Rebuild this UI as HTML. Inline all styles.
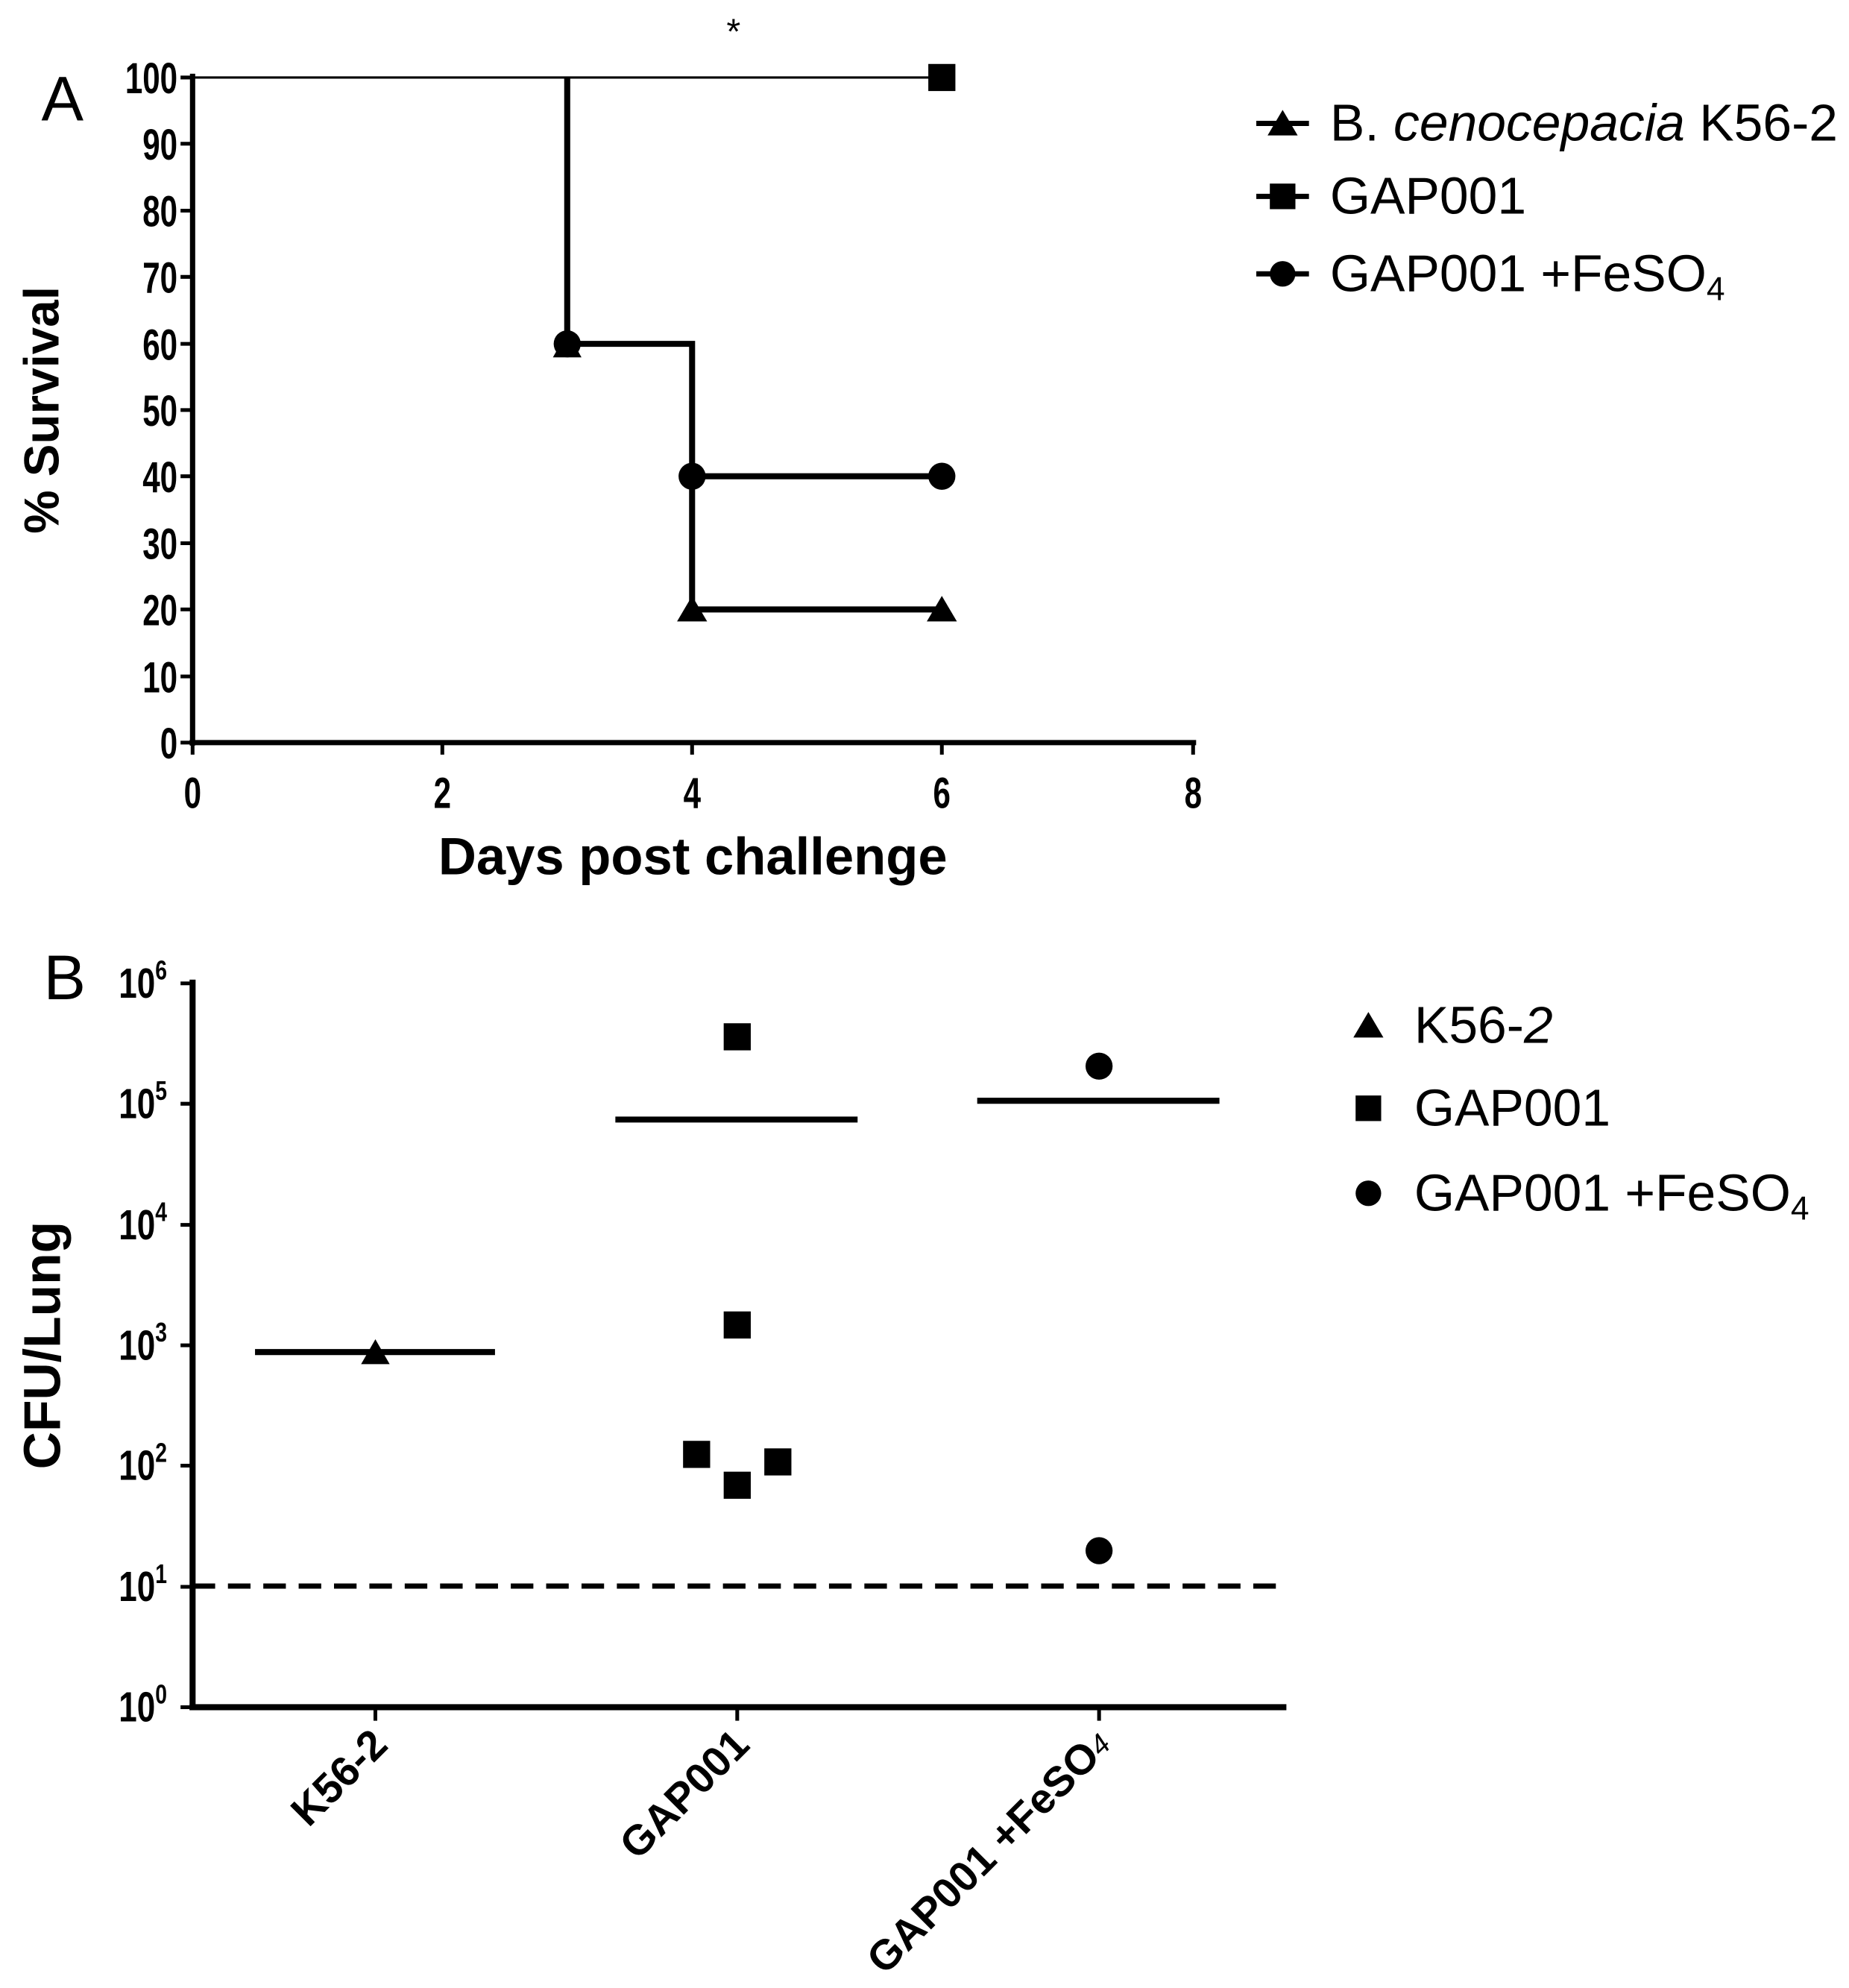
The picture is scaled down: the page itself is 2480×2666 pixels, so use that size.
<!DOCTYPE html>
<html><head><meta charset="utf-8"><style>
html,body{margin:0;padding:0;background:#fff}
svg{display:block}
text{font-family:"Liberation Sans",Arial,sans-serif;fill:#000}
.b{font-weight:bold}
</style></head><body>
<svg width="2480" height="2666" viewBox="0 0 2480 2666" xmlns="http://www.w3.org/2000/svg">
<g transform="scale(1.009)">
<!-- Panel A -->
<text x="55" y="160" font-size="84">A</text>
<text x="975" y="58" font-size="48" text-anchor="middle">*</text>
<g stroke="#000" fill="none">
<line x1="256" y1="98" x2="256" y2="991" stroke-width="7"/>
<line x1="252" y1="987" x2="1590" y2="987" stroke-width="7"/>
<g stroke-width="5">
<line x1="240" y1="103" x2="256" y2="103"/><line x1="240" y1="191" x2="256" y2="191"/><line x1="240" y1="280" x2="256" y2="280"/><line x1="240" y1="368" x2="256" y2="368"/><line x1="240" y1="457" x2="256" y2="457"/><line x1="240" y1="545" x2="256" y2="545"/><line x1="240" y1="633" x2="256" y2="633"/><line x1="240" y1="722" x2="256" y2="722"/><line x1="240" y1="810" x2="256" y2="810"/><line x1="240" y1="899" x2="256" y2="899"/><line x1="240" y1="987" x2="256" y2="987"/>
<line x1="256" y1="987" x2="256" y2="1003"/><line x1="588" y1="987" x2="588" y2="1003"/><line x1="920" y1="987" x2="920" y2="1003"/><line x1="1252" y1="987" x2="1252" y2="1003"/><line x1="1586" y1="987" x2="1586" y2="1003"/>
</g>
<line x1="256" y1="103" x2="1252" y2="103" stroke-width="3"/>
<polyline points="754,103 754,457 920,457 920,633 1252,633" stroke-width="8"/>
<polyline points="920,633 920,810 1252,810" stroke-width="8"/>
</g>
<g transform="translate(236,0) scale(0.72,1)" font-size="58" text-anchor="end" class="b">
<text x="0" y="124" class="b">100</text><text x="0" y="212" class="b">90</text><text x="0" y="301" class="b">80</text><text x="0" y="389" class="b">70</text><text x="0" y="478" class="b">60</text><text x="0" y="566" class="b">50</text><text x="0" y="654" class="b">40</text><text x="0" y="743" class="b">30</text><text x="0" y="831" class="b">20</text><text x="0" y="920" class="b">10</text><text x="0" y="1008" class="b">0</text>
</g>
<g font-size="58" text-anchor="middle" class="b">
<text transform="translate(256,1074) scale(0.72,1)" class="b">0</text>
<text transform="translate(588,1074) scale(0.72,1)" class="b">2</text>
<text transform="translate(920,1074) scale(0.72,1)" class="b">4</text>
<text transform="translate(1252,1074) scale(0.72,1)" class="b">6</text>
<text transform="translate(1586,1074) scale(0.72,1)" class="b">8</text>
</g>
<text x="921" y="1162" font-size="70" text-anchor="middle" class="b">Days post challenge</text>
<text transform="translate(78,545) rotate(-90)" font-size="65" text-anchor="middle" class="b">% Survival</text>
<g fill="#000">
<rect x="1234" y="85" width="36" height="36"/>
<circle cx="754" cy="457" r="18"/><polygon points="754,441 773,475 735,475"/>
<circle cx="920" cy="633" r="18"/><circle cx="1252" cy="633" r="18"/>
<polygon points="920,792 940,826 900,826"/><polygon points="1252,792 1272,826 1232,826"/>
</g>
<!-- Legend A -->
<g stroke="#000" stroke-width="7"><line x1="1670" y1="164" x2="1740" y2="164"/><line x1="1670" y1="261" x2="1740" y2="261"/><line x1="1670" y1="364" x2="1740" y2="364"/></g>
<polygon points="1705,146 1725,180 1685,180" fill="#000"/>
<rect x="1688" y="244" width="34" height="34" fill="#000"/>
<circle cx="1705" cy="364" r="17" fill="#000"/>
<g font-size="69">
<text x="1768" y="187">B. <tspan font-style="italic">cenocepacia</tspan> K56-2</text>
<text x="1768" y="284">GAP001</text>
<text x="1768" y="387">GAP001 +FeSO<tspan font-size="44" dy="12">4</tspan></text>
</g>
<!-- Panel B -->
<text x="58" y="1328" font-size="84">B</text>
<g stroke="#000" fill="none">
<line x1="256" y1="1302" x2="256" y2="2273" stroke-width="8"/>
<line x1="252" y1="2269" x2="1710" y2="2269" stroke-width="8"/>
<g stroke-width="5">
<line x1="240" y1="1307" x2="256" y2="1307"/><line x1="240" y1="1467" x2="256" y2="1467"/><line x1="240" y1="1628" x2="256" y2="1628"/><line x1="240" y1="1788" x2="256" y2="1788"/><line x1="240" y1="1948" x2="256" y2="1948"/><line x1="240" y1="2109" x2="256" y2="2109"/><line x1="240" y1="2269" x2="256" y2="2269"/>
<line x1="499" y1="2269" x2="499" y2="2287"/><line x1="980" y1="2269" x2="980" y2="2287"/><line x1="1461" y1="2269" x2="1461" y2="2287"/>
</g>
<line x1="256" y1="2108" x2="1710" y2="2108" stroke-width="7" stroke-dasharray="30,17"/>
<line x1="339" y1="1797" x2="658" y2="1797" stroke-width="8"/>
<line x1="818" y1="1488" x2="1140" y2="1488" stroke-width="8"/>
<line x1="1299" y1="1463" x2="1621" y2="1463" stroke-width="8"/>
</g>
<g transform="translate(222,0) scale(0.78,1)" font-size="56" text-anchor="end" class="b">
<text x="0" y="1326" class="b">10<tspan font-size="36" dy="-24">6</tspan></text>
<text x="0" y="1486" class="b">10<tspan font-size="36" dy="-24">5</tspan></text>
<text x="0" y="1647" class="b">10<tspan font-size="36" dy="-24">4</tspan></text>
<text x="0" y="1807" class="b">10<tspan font-size="36" dy="-24">3</tspan></text>
<text x="0" y="1967" class="b">10<tspan font-size="36" dy="-24">2</tspan></text>
<text x="0" y="2128" class="b">10<tspan font-size="36" dy="-24">1</tspan></text>
<text x="0" y="2288" class="b">10<tspan font-size="36" dy="-24">0</tspan></text>
</g>
<text transform="translate(80,1788) rotate(-90)" font-size="69" text-anchor="middle" class="b">CFU/Lung</text>
<g font-size="56" text-anchor="end" class="b">
<text transform="translate(518,2322) rotate(-45)" class="b">K56-2</text>
<text transform="translate(999,2322) rotate(-45)" class="b">GAP001</text>
<text transform="translate(1480,2322) rotate(-45)" class="b">GAP001 +FeSO<tspan font-size="38" font-weight="normal" font-style="italic" dy="-2">4</tspan></text>
</g>
<g fill="#000">
<polygon points="499,1780 518,1813 480,1813"/>
<rect x="962" y="1360" width="36" height="36"/>
<rect x="962" y="1743" width="36" height="36"/>
<rect x="908" y="1915" width="36" height="36"/>
<rect x="1016" y="1925" width="36" height="36"/>
<rect x="962" y="1956" width="36" height="36"/>
<circle cx="1461" cy="1417" r="18"/>
<circle cx="1461" cy="2061" r="18"/>
</g>
<!-- Legend B -->
<polygon points="1819,1345 1839,1379 1799,1379" fill="#000"/>
<rect x="1802" y="1456" width="34" height="34" fill="#000"/>
<circle cx="1819" cy="1586" r="17" fill="#000"/>
<g font-size="69">
<text x="1880" y="1386">K56-<tspan font-style="italic">2</tspan></text>
<text x="1880" y="1496">GAP001</text>
<text x="1880" y="1609">GAP001 +FeSO<tspan font-size="44" dy="12">4</tspan></text>
</g>
</g>
</svg>
</body></html>
